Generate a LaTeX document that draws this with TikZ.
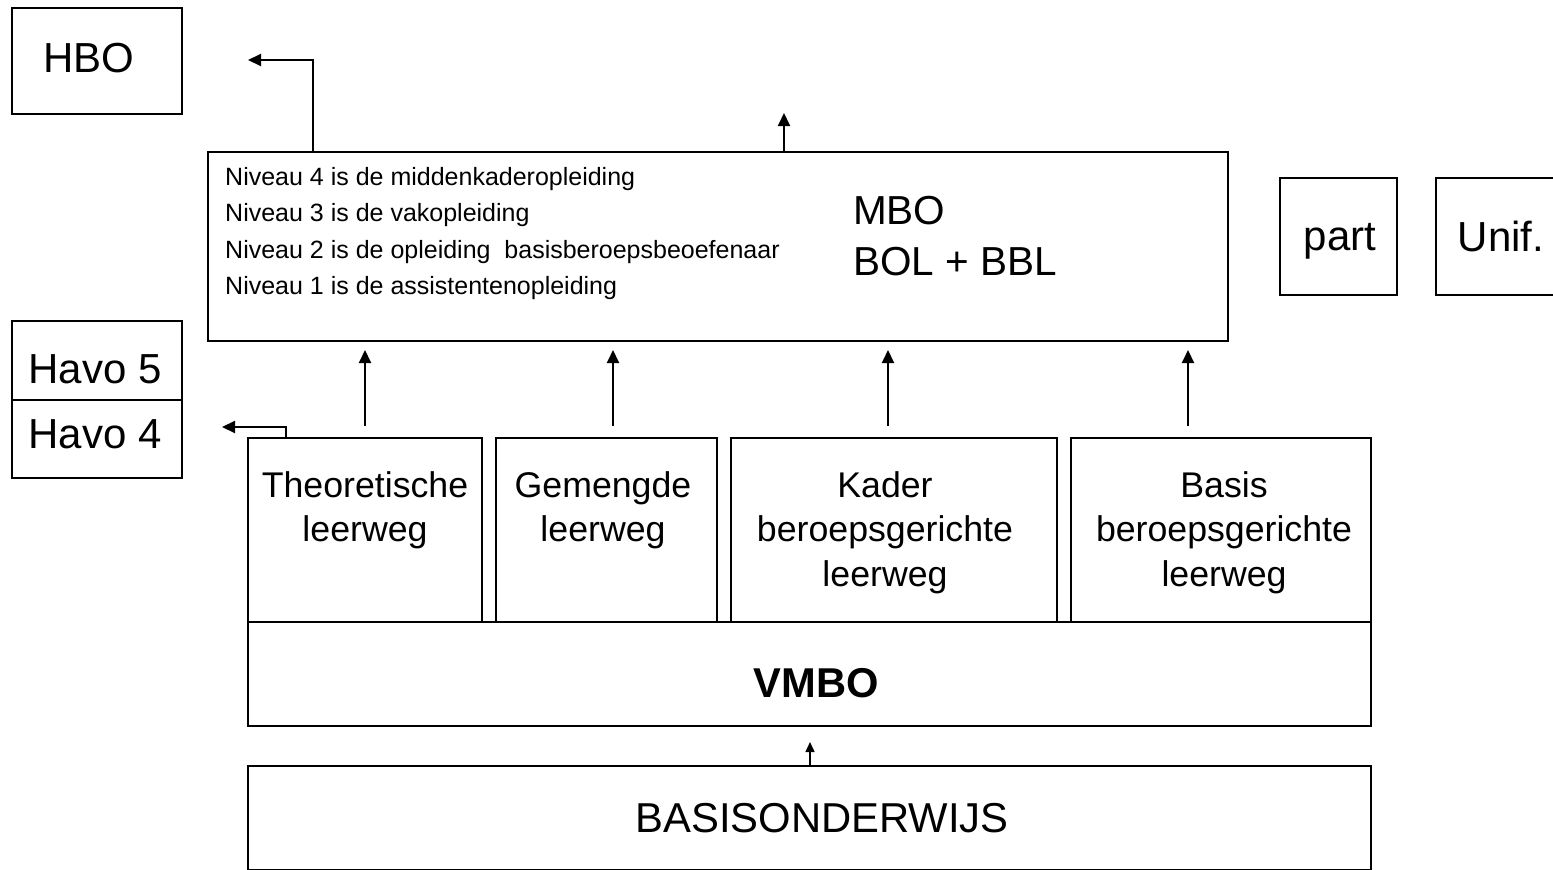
\documentclass[tikz,border=0pt]{standalone}
\usepackage{fontspec}
\setmainfont{Liberation Sans}
\usetikzlibrary{arrows.meta}

\tikzset{
	box/.style={draw, line width=2pt, inner sep=0pt},
	arr/.style={line width=2pt, -{Triangle[length=13pt,width=12pt]}},
	bigtxt/.style={font=\fontsize{42}{51}\selectfont, inner sep=0pt},
	lwtxt/.style={font=\fontsize{35.7}{44.5}\selectfont, align=center, inner sep=0pt},
	nivtxt/.style={font=\fontsize{25}{36.5}\selectfont, align=left, inner sep=0pt},
}

\begin{document}
\begin{tikzpicture}[x=1pt,y=-1pt]

\useasboundingbox (0,0) rectangle (1553,870);

% left column
\node[box, minimum width=170pt, minimum height=106pt] (hbo) at (97,61) {};
\node[bigtxt, anchor=base] (hbotxt) at (89,72) {HBO};

\node[box, minimum width=170pt, minimum height=79pt] (havo5) at (97,360.5) {};
\node[box, minimum width=170pt, minimum height=78pt] (havo4) at (97,439) {};
\node[bigtxt, anchor=base] (havo5txt) at (95,383) {Havo 5};
\node[bigtxt, anchor=base] (havo4txt) at (95,448) {Havo 4};

% MBO
\node[box, minimum width=1020pt, minimum height=189pt] (mbo) at (718,246.5) {};
\node[nivtxt, anchor=north west] (niveaus) at (225,167) {Niveau 4 is de middenkaderopleiding\\
	Niveau 3 is de vakopleiding\\
	Niveau 2 is de opleiding\ \ basisberoepsbeoefenaar\\
	Niveau 1 is de assistentenopleiding};
\node[font=\fontsize{40.5}{51}\selectfont, align=left, inner sep=0pt, anchor=north west]
	(mbotxt) at (853,196) {MBO\\BOL + BBL};

% right column
\node[box, minimum width=117pt, minimum height=117pt] (part) at (1338.5,236.5) {};
\node[bigtxt, anchor=base] (parttxt) at (1340,250) {part};
\node[box, minimum width=125pt, minimum height=117pt] (unif) at (1498.5,236.5) {};
\node[bigtxt, anchor=base] (uniftxt) at (1501,251) {Unif.};

% leerwegen
\node[box, minimum width=234pt, minimum height=184pt] (theo) at (365,530) {};
\node[box, minimum width=221pt, minimum height=184pt] (gem) at (606.5,530) {};
\node[box, minimum width=326pt, minimum height=184pt] (kader) at (894,530) {};
\node[box, minimum width=300pt, minimum height=184pt] (basis) at (1221,530) {};

\node[lwtxt, anchor=north] (theotxt) at (365,471) {Theoretische\\leerweg};
\node[lwtxt, anchor=north] (gemtxt) at (603,471) {Gemengde\\leerweg};
\node[lwtxt, anchor=north] (kadertxt) at (885,471) {Kader\\beroepsgerichte\\leerweg};
\node[lwtxt, anchor=north] (basistxt) at (1224,471) {Basis\\beroepsgerichte\\leerweg};

% VMBO and basisonderwijs
\node[box, minimum width=1123pt, minimum height=104pt] (vmbo) at (809.5,674) {};
\node[font=\fontsize{41.7}{50}\selectfont\bfseries, inner sep=0pt, anchor=base] (vmbotxt) at (816,697) {VMBO};
\node[box, minimum width=1123pt, minimum height=104pt] (basisond) at (809.5,818) {};
\node[font=\fontsize{41.8}{46}\selectfont, inner sep=0pt, anchor=base] (basisondtxt) at (822,832) {BASISONDERWIJS};

% arrows
\coordinate (toHbo) at (248,60);
\coordinate (mboUp) at (784,113);
\coordinate (toHavo) at (222,427);

\draw[arr] (313,0 |- mbo.north) |- (toHbo);
\draw[arr] (mboUp |- mbo.north) -- (mboUp);
\draw[arr] (286,0 |- theo.north) |- (toHavo);

\foreach \x/\n in {365/theo,613/gem,888/kader,1188/basis}
	\draw[arr, shorten <=11pt, shorten >=8pt] (\x,0 |- \n.north) -- (\x,0 |- mbo.south);

\draw[line width=1.5pt, -{Triangle[length=10pt,width=9pt]}, shorten >=15pt]
	(810,0 |- basisond.north) -- (810,0 |- vmbo.south);

\end{tikzpicture}
\end{document}
